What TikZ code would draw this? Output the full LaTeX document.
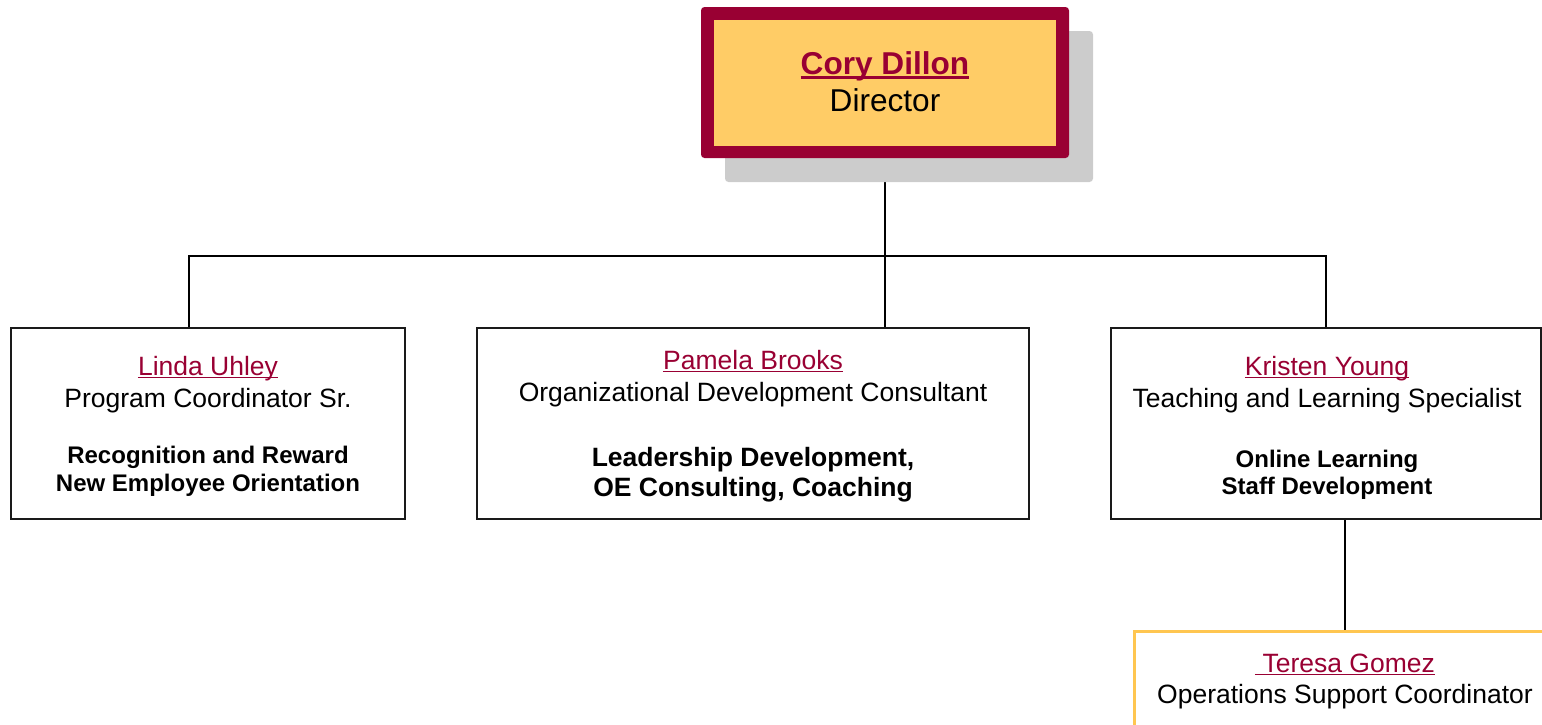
\documentclass[tikz,border=0pt]{standalone}
\usepackage{fontspec}
\setmainfont{Liberation Sans}
\usetikzlibrary{shadows,backgrounds}
\definecolor{burg}{HTML}{990033}
\definecolor{gold}{HTML}{FFCC66}
\definecolor{goldline}{HTML}{FFC650}
\definecolor{shadowgray}{HTML}{CCCCCC}
\definecolor{boxline}{HTML}{1A1A1A}
\newcommand{\regf}{\fontsize{26.5}{30}\selectfont}
\newcommand{\boldf}{\fontsize{24}{28}\selectfont\bfseries}
\newcommand{\boldbig}{\fontsize{26.5}{30}\selectfont\bfseries}
\newcommand{\dirf}{\fontsize{31.6}{36}\selectfont}
\tikzset{
  unitbox/.style={draw=boxline, line width=2pt, fill=white, inner sep=0pt},
  dirbox/.style={fill=burg, rounded corners=3.5pt, inner sep=0pt,
     minimum width=368pt, minimum height=151pt,
     drop shadow={shadow xshift=24pt, shadow yshift=-24pt, fill=shadowgray, opacity=1}},
  dirinner/.style={fill=gold, inner sep=0pt, minimum width=342pt, minimum height=126pt},
  opsbox/.style={draw=goldline, line width=3pt, fill=white, inner sep=0pt},
  txtbase/.style={inner sep=0pt, anchor=base},
  pname/.style={txtbase, text=burg, font=\regf},
  prole/.style={txtbase, text=black, font=\regf},
  pduty/.style={txtbase, text=black, font=\boldf},
  pdutybig/.style={txtbase, text=black, font=\boldbig},
  uline/.style={draw=burg, line width=1.6pt},
  conn/.style={draw=black, line width=2pt}
}
\begin{document}
\begin{tikzpicture}[x=1pt,y=-1pt]
\useasboundingbox (0,0) rectangle (1542,724);

% director
\node[dirbox] (dir) at (885,82.5) {};
\node[dirinner] (dirin) at (885,83) {};
\node[txtbase, text=burg, font=\dirf\bfseries] (cory) at (885,74) {Cory Dillon};
\node[txtbase, font=\dirf] (dirrole) at (885,111.5) {Director};
\draw[draw=burg, line width=3pt] ([yshift=-3.7pt]cory.base west) -- ([yshift=-3.7pt]cory.base east);

% boxes
\node[unitbox, minimum width=394pt, minimum height=191pt] (b1) at (208,423.5) {};
\node[unitbox, minimum width=552pt, minimum height=191pt] (b2) at (753,423.5) {};
\node[unitbox, minimum width=430pt, minimum height=191pt] (b3) at (1326,423.5) {};
\node[opsbox, minimum width=421pt, minimum height=160pt] (b4) at (1345,711.5) {};

% connectors (behind the shadow)
\coordinate (j) at (885,256);
\coordinate (b1c) at (189,328);
\coordinate (b2c) at (885,328);
\begin{scope}[on background layer]
\draw[conn] (dir.south) -- (b2c);
\draw[conn] (b1c) |- (j) -| (b3.north);
\draw[conn] (b4.north |- b3.south) -- (b4.north);
\end{scope}

% box 1
\node[pname] (n1) at (208,375) {Linda Uhley};
\draw[uline] ([yshift=-2.5pt]n1.base west) -- ([yshift=-2.5pt]n1.base east);
\node[prole] (r1) at (208,407) {Program Coordinator Sr.};
\node[pduty] (d1a) at (208,463) {Recognition and Reward};
\node[pduty] (d1b) at (208,491) {New Employee Orientation};

% box 2
\node[pname] (n2) at (753,369) {Pamela Brooks};
\draw[uline] ([yshift=-2.5pt]n2.base west) -- ([yshift=-2.5pt]n2.base east);
\node[prole] (r2) at (753,401) {Organizational Development Consultant};
\node[pdutybig] (d2a) at (753,466) {Leadership Development,};
\node[pdutybig] (d2b) at (753,496) {OE Consulting, Coaching};

% box 3
\node[pname] (n3) at (1327,375) {Kristen Young};
\draw[uline] ([yshift=-2.5pt]n3.base west) -- ([yshift=-2.5pt]n3.base east);
\node[prole] (r3) at (1327,407) {Teaching and Learning Specialist};
\node[pduty] (d3a) at (1327,467) {Online Learning};
\node[pduty] (d3b) at (1327,494) {Staff Development};

% box 4
\node[pname] (n4) at (1345,672) {\ Teresa Gomez};
\draw[uline] ([yshift=-2.5pt]n4.base west) -- ([yshift=-2.5pt]n4.base east);
\node[prole] (r4) at (1345,703) {Operations Support Coordinator};
\end{tikzpicture}
\end{document}
